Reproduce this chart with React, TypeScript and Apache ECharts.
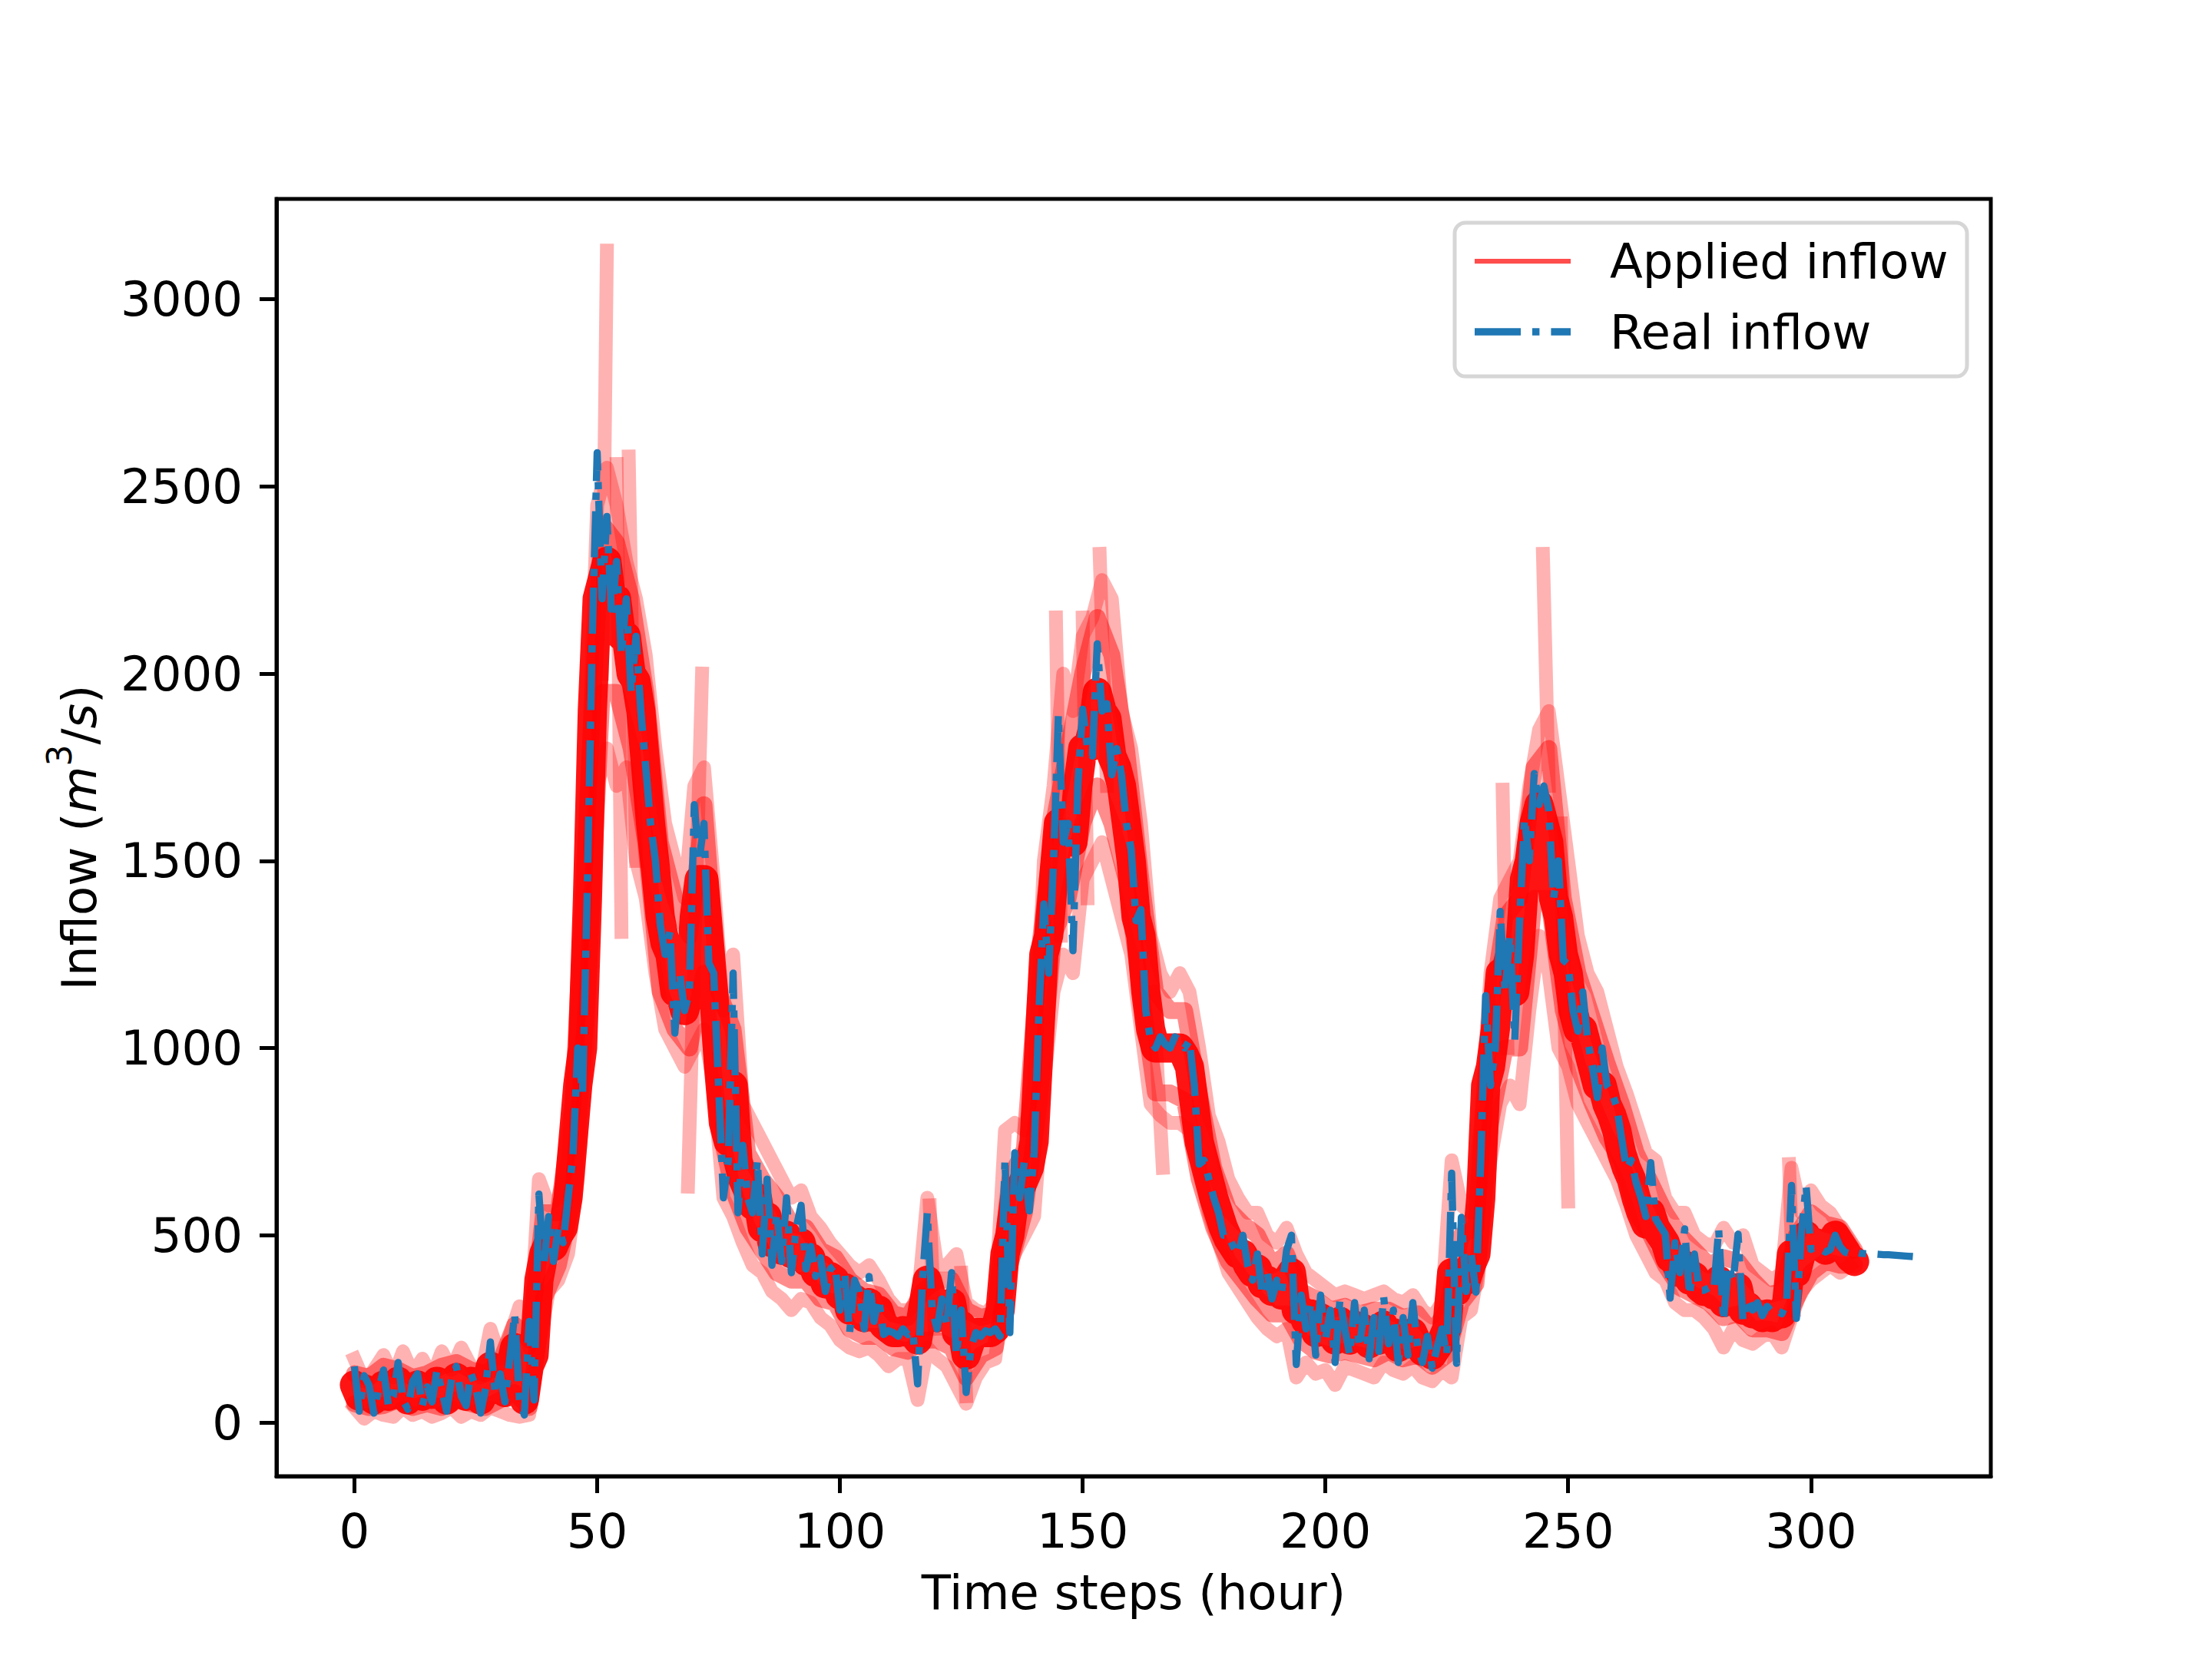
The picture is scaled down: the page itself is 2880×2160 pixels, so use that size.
import React, { useEffect, useRef } from "react";
import * as echarts from "echarts";

// Real inflow, one value per hour (t = 0 .. 321)
const realInflow = [
  150, 30, 125, 100, 25, 90, 140, 45, 70, 160,
  60, 35, 110, 130, 45, 95, 55, 140, 85, 30,
  115, 150, 70, 45, 130, 95, 25, 90, 215, 75,
  130, 55, 170, 290, 60, 20, 270, 60, 610, 420,
  550, 430, 520, 480, 600, 710, 1000, 880, 1450, 2100,
  2590, 2200, 2420, 2150, 2300, 2050, 2200, 1950, 2100, 1900,
  1750, 1600, 1500, 1330, 1250, 1310, 1040, 1200, 1100, 1150,
  1650, 1500, 1600, 1227, 1200, 900, 600, 700, 1200, 560,
  740, 600, 560, 700, 450, 650, 420, 560, 430, 600,
  400, 520, 580, 410, 470, 390, 440, 350, 410, 420,
  300, 400, 240, 380, 350, 250, 390, 270, 330, 235,
  245, 240, 230, 250, 235, 245, 103, 380, 560, 300,
  250, 330, 260, 400, 180, 300, 80, 200, 240, 230,
  245, 240, 250, 230, 706, 240, 720, 600, 700, 565,
  720, 1100, 1385, 1200, 1500, 1890, 1550, 1600, 1260, 1700,
  1905, 1800, 1780, 2080, 1900, 1920, 1730, 1800, 1730, 1600,
  1530, 1340, 1370, 1100, 1020, 1000, 1030, 1010, 1000, 1030,
  1020, 1000, 1020, 900, 690, 700, 650, 600, 560, 500,
  500, 470, 450, 500, 420, 380, 450, 340, 400, 330,
  380, 350, 460, 500, 155, 340, 250, 320, 180, 340,
  220, 300, 160, 330, 250, 180, 320, 200, 300, 170,
  280, 190, 335, 210, 300, 160, 280, 180, 320, 200,
  160, 230, 145, 200, 250, 180, 666, 158, 548, 350,
  450, 348, 700, 1140, 900, 1000, 1365, 1150, 1300, 1022,
  1340, 1613, 1500, 1733, 1650, 1700, 1637, 1400, 1500, 1235,
  1223, 1100, 1045, 1150, 1022, 950, 868, 1000, 900, 880,
  844, 760, 678, 700, 640, 600, 550, 694, 544, 523,
  503, 332, 480, 400, 517, 339, 450, 353, 353, 360,
  353, 517, 271, 420, 380, 503, 271, 332, 300, 320,
  285, 310, 295, 300, 290, 320, 633, 278, 500, 633,
  462, 470, 462, 455, 462, 500, 470, 455, 450, 455,
  452, 451, 450, 450, 449, 448, 448, 447, 446, 445, 444, 443,
];

// Applied inflow (dense core of the forecasts), one value per hour (t = 0 .. 309)
const appliedInflow = [
  100, 70, 90, 85, 60, 80, 100, 70, 75, 110,
  80, 60, 90, 100, 70, 85, 75, 110, 90, 60,
  95, 120, 80, 70, 110, 95, 60, 90, 150, 100,
  110, 80, 140, 200, 90, 60, 150, 180, 380, 450,
  480, 470, 500, 520, 600, 750, 900, 1000, 1400, 1900,
  2200, 2250, 2300, 2200, 2200, 2100, 2100, 2000, 1980, 1900,
  1750, 1600, 1480, 1350, 1280, 1250, 1150, 1150, 1100, 1150,
  1350, 1450, 1450, 1300, 1150, 950, 800, 750, 900, 700,
  650, 620, 580, 600, 520, 550, 480, 500, 460, 500,
  450, 470, 480, 430, 440, 400, 410, 370, 390, 380,
  340, 360, 300, 330, 320, 280, 320, 280, 300, 260,
  250, 240, 240, 245, 240, 240, 220, 300, 380, 330,
  280, 300, 280, 320, 240, 260, 180, 220, 240, 240,
  240, 240, 250, 300, 450, 500, 600, 620, 650, 680,
  750, 1000, 1250, 1300, 1450, 1600, 1600, 1620, 1550, 1700,
  1800, 1800, 1850, 1950, 1900, 1880, 1780, 1750, 1700, 1600,
  1500, 1350, 1300, 1150, 1050, 1000, 1000, 1000, 1000, 1000,
  1000, 980, 950, 850, 750, 700, 650, 600, 560, 520,
  490, 470, 450, 450, 420, 400, 410, 370, 380, 350,
  360, 340, 380, 400, 300, 300, 270, 290, 240, 280,
  250, 260, 220, 270, 240, 220, 260, 230, 250, 210,
  240, 220, 260, 230, 240, 200, 230, 210, 240, 210,
  190, 200, 180, 200, 220, 250, 400, 350, 400, 380,
  420, 450, 600, 900, 950, 1050, 1200, 1200, 1250, 1150,
  1250, 1450, 1500, 1600, 1650, 1600, 1550, 1400, 1350, 1250,
  1200, 1100, 1050, 1050, 1000, 950, 900, 900, 850, 820,
  780, 720, 680, 650, 600, 560, 530, 560, 520, 500,
  480, 440, 430, 400, 420, 380, 390, 360, 350, 350,
  340, 380, 320, 350, 330, 360, 300, 310, 290, 290,
  280, 290, 280, 290, 290, 320, 450, 400, 450, 500,
  470, 480, 470, 460, 480, 500, 480, 460, 440, 430,
];

// Inner spread of the applied forecasts (every 3 hours): [hour, inflow]
const appliedMidUpper = [
  [0, 130], [3, 120], [6, 150], [9, 140], [12, 120], [15, 130], [18, 150], [21, 160], [24, 140], [27, 130],
  [30, 160], [33, 260], [36, 220], [39, 560], [42, 560], [45, 850], [48, 1650], [51, 2400], [54, 2350], [57, 2200],
  [60, 1950], [63, 1550], [66, 1400], [69, 1300], [72, 1650], [75, 1150], [78, 1050], [81, 720], [84, 650], [87, 600],
  [90, 530], [93, 520], [96, 460], [99, 440], [102, 380], [105, 350], [108, 340], [111, 290], [114, 280], [117, 350],
  [120, 380], [123, 380], [126, 300], [129, 280], [132, 290], [135, 650], [138, 730], [141, 1250], [144, 1600], [147, 1800],
  [150, 2000], [153, 2150], [156, 2050], [159, 1800], [162, 1450], [165, 1150], [168, 1100], [171, 1100], [174, 880], [177, 680],
  [180, 570], [183, 530], [186, 500], [189, 420], [192, 450], [195, 350], [198, 330], [201, 300], [204, 310], [207, 290],
  [210, 300], [213, 300], [216, 280], [219, 290], [222, 240], [225, 300], [228, 500], [231, 520], [234, 1100], [237, 1350],
  [240, 1400], [243, 1750], [246, 1800], [249, 1400], [252, 1200], [255, 1080], [258, 960], [261, 850], [264, 720], [267, 640],
  [270, 560], [273, 500], [276, 460], [279, 420], [282, 440], [285, 430], [288, 380], [291, 340], [294, 350], [297, 500],
  [300, 560], [303, 530], [306, 520], [309, 460],
];

const appliedMidLower = [
  [0, 50], [3, 40], [6, 45], [9, 60], [12, 40], [15, 50], [18, 40], [21, 60], [24, 50], [27, 40],
  [30, 60], [33, 80], [36, 40], [39, 330], [42, 420], [45, 600], [48, 1150], [51, 1950], [54, 1950], [57, 1800],
  [60, 1550], [63, 1150], [66, 1050], [69, 1000], [72, 1200], [75, 800], [78, 620], [81, 520], [84, 460], [87, 400],
  [90, 380], [93, 380], [96, 330], [99, 320], [102, 250], [105, 230], [108, 230], [111, 200], [114, 190], [117, 220],
  [120, 220], [123, 200], [126, 120], [129, 180], [132, 200], [135, 420], [138, 560], [141, 850], [144, 1300], [147, 1400],
  [150, 1600], [153, 1700], [156, 1600], [159, 1450], [162, 1150], [165, 880], [168, 880], [171, 860], [174, 650], [177, 520],
  [180, 430], [183, 380], [186, 330], [189, 290], [192, 290], [195, 220], [198, 190], [201, 180], [204, 190], [207, 180],
  [210, 170], [213, 190], [216, 170], [219, 180], [222, 150], [225, 180], [228, 320], [231, 370], [234, 800], [237, 1000],
  [240, 1000], [243, 1400], [246, 1400], [249, 1100], [252, 950], [255, 850], [258, 760], [261, 700], [264, 560], [267, 500],
  [270, 420], [273, 360], [276, 340], [279, 320], [282, 280], [285, 290], [288, 250], [291, 250], [294, 240], [297, 330],
  [300, 400], [303, 430], [306, 420], [309, 420],
];

// Outer spread of the applied forecasts: [hour, inflow]
const appliedUpper = [
  [0, 170], [2, 110], [4, 140], [6, 180], [8, 120], [10, 190], [12, 130], [14, 170], [16, 120], [18, 190],
  [20, 140], [22, 200], [24, 150], [26, 120], [28, 250], [30, 170], [32, 230], [34, 310], [36, 200], [38, 650],
  [40, 580], [42, 600], [44, 700], [46, 1100], [48, 1700], [50, 2450], [51, 2500], [52, 2550], [54, 2450], [56, 2300],
  [58, 2200], [60, 2050], [62, 1800], [64, 1600], [66, 1500], [68, 1400], [70, 1700], [72, 1750], [74, 1450], [76, 1100],
  [78, 1250], [80, 850], [82, 800], [84, 750], [86, 700], [88, 650], [90, 600], [92, 620], [94, 550], [96, 520],
  [98, 480], [100, 450], [102, 420], [104, 400], [106, 420], [108, 380], [110, 330], [112, 300], [114, 300], [116, 320],
  [118, 600], [120, 420], [122, 420], [124, 450], [126, 320], [128, 300], [130, 290], [132, 320], [134, 780], [136, 800],
  [138, 780], [140, 900], [142, 1500], [144, 1700], [146, 2000], [148, 1900], [150, 2100], [152, 2150], [154, 2250], [156, 2200],
  [158, 1900], [160, 1800], [162, 1600], [164, 1300], [166, 1200], [168, 1150], [170, 1200], [172, 1150], [174, 1000], [176, 820],
  [178, 750], [180, 650], [182, 600], [184, 560], [186, 560], [188, 500], [190, 480], [192, 520], [194, 450], [196, 400],
  [198, 380], [200, 360], [202, 340], [204, 350], [206, 340], [208, 330], [210, 340], [212, 350], [214, 330], [216, 320],
  [218, 340], [220, 300], [222, 280], [224, 320], [226, 700], [228, 580], [230, 560], [232, 800], [234, 1200], [236, 1400],
  [238, 1450], [240, 1500], [242, 1700], [244, 1850], [246, 1900], [248, 1700], [250, 1500], [252, 1300], [254, 1200], [256, 1150],
  [258, 1050], [260, 950], [262, 880], [264, 800], [266, 720], [268, 700], [270, 600], [272, 560], [274, 560], [276, 500],
  [278, 480], [280, 470], [282, 520], [284, 480], [286, 500], [288, 420], [290, 400], [292, 380], [294, 400], [296, 680],
  [298, 560], [300, 620], [302, 580], [304, 560], [306, 520], [308, 480],
];

const appliedLower = [
  [0, 40], [2, 10], [4, 30], [6, 20], [8, 15], [10, 40], [12, 20], [14, 30], [16, 15], [18, 25],
  [20, 40], [22, 15], [24, 30], [26, 20], [28, 40], [30, 30], [32, 20], [34, 15], [36, 20], [38, 200],
  [40, 350], [42, 380], [44, 450], [46, 650], [48, 1000], [50, 1700], [52, 1800], [54, 1700], [56, 1750], [58, 1500],
  [60, 1400], [62, 1200], [64, 1050], [66, 1000], [68, 950], [70, 1000], [72, 1050], [74, 900], [76, 600], [78, 550],
  [80, 480], [82, 420], [84, 400], [86, 350], [88, 330], [90, 300], [92, 330], [94, 320], [96, 280], [98, 260],
  [100, 220], [102, 200], [104, 190], [106, 200], [108, 180], [110, 150], [112, 170], [114, 170], [116, 60], [118, 200],
  [120, 170], [122, 150], [124, 100], [126, 50], [128, 120], [130, 160], [132, 170], [134, 380], [136, 450], [138, 500],
  [140, 550], [142, 900], [144, 1150], [146, 1250], [148, 1200], [150, 1450], [152, 1500], [154, 1550], [156, 1450], [158, 1350],
  [160, 1250], [162, 1050], [164, 850], [166, 820], [168, 800], [170, 800], [172, 780], [174, 700], [176, 560], [178, 480],
  [180, 400], [182, 360], [184, 320], [186, 280], [188, 250], [190, 230], [192, 250], [194, 120], [196, 160], [198, 130],
  [200, 140], [202, 100], [204, 150], [206, 140], [208, 130], [210, 120], [212, 160], [214, 140], [216, 130], [218, 150],
  [220, 120], [222, 110], [224, 140], [226, 120], [228, 280], [230, 300], [232, 450], [234, 700], [236, 850], [238, 900],
  [240, 850], [242, 1100], [244, 1300], [246, 1200], [248, 1000], [250, 950], [252, 850], [254, 800], [256, 750], [258, 700],
  [260, 650], [262, 580], [264, 500], [266, 450], [268, 400], [270, 380], [272, 320], [274, 300], [276, 300], [278, 280],
  [280, 250], [282, 200], [284, 250], [286, 220], [288, 210], [290, 230], [292, 240], [294, 200], [296, 280], [298, 350],
  [300, 380], [302, 400], [304, 420], [306, 400], [308, 420],
];

// Isolated forecast outliers: each is a short stroke [hour, inflow] -> [hour, inflow]
const appliedOutliers = [
  [[51, 2000], [52, 3130]],
  [[54, 2560], [55, 1310]],
  [[56.5, 2580], [58, 1500]],
  [[71.6, 2000], [68.7, 630]],
  [[118.5, 580], [119.5, 250]],
  [[125, 400], [126, 70]],
  [[144.5, 2150], [145.5, 1300]],
  [[150, 2150], [151, 1400]],
  [[153.5, 2320], [155, 1700]],
  [[164.5, 1150], [166.5, 680]],
  [[236.5, 1690], [237.5, 1000]],
  [[244.8, 2320], [246, 1700]],
  [[248.5, 1600], [250, 590]],
  [[295.5, 690], [296.5, 300]],
];

const xTicks = [0, 50, 100, 150, 200, 250, 300];
const yTicks = [0, 500, 1000, 1500, 2000, 2500, 3000];
const legendLabels = ["Applied inflow", "Real inflow"];

const FONT = "DejaVu Sans";
const FS = 62.5;

export default function App() {
  const ref = useRef<HTMLDivElement>(null);

  useEffect(() => {
    const chart = echarts.init(ref.current!, null, { renderer: "svg" });

    const faintStyle = {
      color: "#ff0000",
      width: 18,
      opacity: 0.3,
      cap: "square",
      join: "round",
    };
    const midStyle = {
      color: "#ff0000",
      width: 22,
      opacity: 0.45,
      cap: "round",
      join: "round",
    };

    const lineSeries = (data: any, style: any, z: number) => ({
      type: "line",
      data,
      showSymbol: false,
      symbol: "none",
      silent: true,
      z,
      lineStyle: style,
    });

    const option: any = {
      animation: false,
      backgroundColor: "#ffffff",
      grid: {
        left: 360,
        right: 288,
        top: 259,
        bottom: 238,
        show: true,
        borderColor: "#000",
        borderWidth: 5,
        backgroundColor: "transparent",
        containLabel: false,
        outerBoundsMode: "none",
      },
      xAxis: {
        type: "value",
        min: -16.05,
        max: 337.05,
        axisLine: { show: true, onZero: false, lineStyle: { color: "#000", width: 5 } },
        axisTick: {
          show: true,
          customValues: xTicks,
          length: 22,
          inside: false,
          lineStyle: { color: "#000", width: 5 },
        },
        axisLabel: {
          customValues: xTicks,
          margin: 40,
          color: "#000",
          fontFamily: FONT,
          fontSize: FS,
          formatter: (v: number) => String(v),
        },
        splitLine: { show: false },
        name: "Time steps (hour)",
        nameLocation: "middle",
        nameGap: 120,
        nameTextStyle: { color: "#000", fontFamily: FONT, fontSize: FS },
      },
      yAxis: {
        type: "value",
        min: -143.6,
        max: 3268,
        axisLine: { show: true, onZero: false, lineStyle: { color: "#000", width: 5 } },
        axisTick: {
          show: true,
          customValues: yTicks,
          length: 22,
          inside: false,
          lineStyle: { color: "#000", width: 5 },
        },
        axisLabel: {
          customValues: yTicks,
          margin: 44,
          color: "#000",
          fontFamily: FONT,
          fontSize: FS,
          formatter: (v: number) => String(v),
        },
        splitLine: { show: false },
        name: "{a|Inflow (}{i|m}{sup|3}{a|/}{i|s}{a|)}",
        nameLocation: "middle",
        nameGap: 225,
        nameTextStyle: {
          color: "#000",
          fontFamily: FONT,
          fontSize: FS,
          rich: {
            a: { fontFamily: FONT, fontSize: FS, color: "#000", verticalAlign: "bottom", lineHeight: 80 },
            i: { fontFamily: FONT, fontSize: FS, fontStyle: "italic", color: "#000", verticalAlign: "bottom", lineHeight: 80 },
            sup: { fontFamily: FONT, fontSize: 44, color: "#000", verticalAlign: "top", lineHeight: 80 },
          },
        },
      },
      series: [
        lineSeries(appliedUpper, faintStyle, 2),
        lineSeries(appliedLower, faintStyle, 2),
        ...appliedOutliers.map((seg) => lineSeries(seg, faintStyle, 2)),
        lineSeries(appliedMidUpper, midStyle, 3),
        lineSeries(appliedMidLower, midStyle, 3),
        {
          ...lineSeries(
            appliedInflow.map((v, i) => [i, v]),
            { color: "#ff0000", width: 38, opacity: 0.92, cap: "round", join: "round" },
            4
          ),
          name: legendLabels[0],
        },
        {
          ...lineSeries(
            realInflow.map((v, i) => [i, v]),
            {
              color: "#1f77b4",
              width: 9.4,
              type: [60, 15, 9.4, 15],
              cap: "butt",
              join: "round",
            },
            5
          ),
          name: legendLabels[1],
        },
      ],
      graphic: [
        {
          type: "group",
          z: 100,
          children: [
            {
              type: "rect",
              shape: { x: 1894, y: 290, width: 667, height: 200, r: 14 },
              style: { fill: "rgba(255,255,255,0.8)", stroke: "#d6d6d6", lineWidth: 5 },
            },
            {
              type: "line",
              shape: { x1: 1920, y1: 340, x2: 2045, y2: 340 },
              style: { stroke: "#ff0000", opacity: 0.7, lineWidth: 6.25 },
            },
            {
              type: "line",
              shape: { x1: 1920, y1: 432, x2: 2045, y2: 432 },
              style: { stroke: "#1f77b4", lineWidth: 9.4, lineDash: [60, 15, 9.4, 15] },
            },
            {
              type: "text",
              x: 2096,
              y: 340,
              style: {
                text: legendLabels[0],
                fontFamily: FONT,
                fontSize: FS,
                fill: "#000",
                align: "left",
                verticalAlign: "middle",
              },
            },
            {
              type: "text",
              x: 2096,
              y: 432,
              style: {
                text: legendLabels[1],
                fontFamily: FONT,
                fontSize: FS,
                fill: "#000",
                align: "left",
                verticalAlign: "middle",
              },
            },
          ],
        },
      ],
    };

    chart.setOption(option);
    return () => chart.dispose();
  }, []);

  return (
    <div
      ref={ref}
      style={{ position: "absolute", left: 0, top: 0, width: 2880, height: 2160, background: "#fff" }}
    />
  );
}
